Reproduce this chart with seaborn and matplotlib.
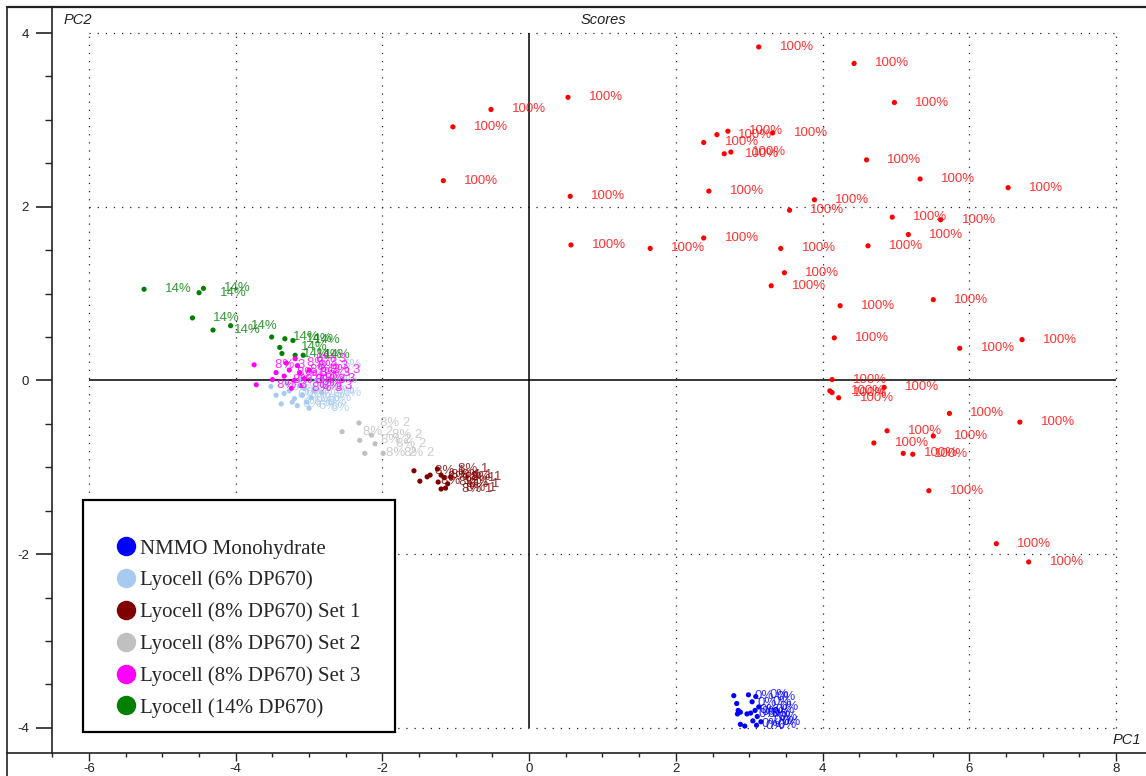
import matplotlib
matplotlib.use("Agg")
import matplotlib.pyplot as plt
import seaborn as sns
import pandas as pd
from matplotlib.lines import Line2D
from matplotlib.patches import Rectangle
from matplotlib.ticker import MultipleLocator

# ---------------- data ----------------
red_x = [3.13, 4.43, 0.53, -0.52, -1.04, 4.98, 2.71, 2.56, 2.38, 2.66, 2.75, 3.32, 4.60, -1.17, 5.33,
         6.53, 0.56, 2.45, 3.89, 3.55, 4.95, 5.61, 5.17, 0.57, 1.65, 2.38, 3.43, 4.62, 3.48, 3.30,
         4.24, 5.51, 4.16, 5.87, 6.72, 4.13, 4.10, 4.13, 4.22, 4.84, 5.73, 6.69, 4.88, 5.51, 4.70,
         5.10, 5.23, 5.45, 6.37, 6.81]
red_y = [3.84, 3.65, 3.26, 3.12, 2.92, 3.20, 2.87, 2.83, 2.74, 2.61, 2.63, 2.85, 2.54, 2.30, 2.32,
         2.22, 2.12, 2.18, 2.08, 1.96, 1.88, 1.85, 1.68, 1.56, 1.52, 1.64, 1.52, 1.55, 1.24, 1.09,
         0.86, 0.93, 0.49, 0.37, 0.47, 0.01, -0.12, -0.14, -0.20, -0.08, -0.38, -0.48, -0.58, -0.64, -0.72,
         -0.84, -0.85, -1.27, -1.88, -2.09]

nmmo_x = [2.79, 2.99, 2.83, 2.85, 2.88, 2.84, 2.97, 3.02, 3.05, 2.88, 2.94, 3.08, 3.04, 3.11, 3.09, 3.13, 3.16, 3.10]
nmmo_y = [-3.63, -3.62, -3.72, -3.80, -3.82, -3.84, -3.84, -3.83, -3.92, -3.96, -3.98, -3.80, -3.70, -3.87, -3.64, -3.76, -3.93, -3.97]

ly6_x = [-3.52, -3.45, -3.38, -3.34, -3.27, -3.20, -3.13, -3.09, -3.03, -3.00, -2.93, -2.89, -2.83, -2.83,
         -3.16, -3.07, -2.97, -3.30, -3.13, -3.23]
ly6_y = [-0.07, -0.17, -0.27, -0.15, -0.12, -0.21, -0.06, -0.17, -0.25, -0.32, -0.12, 0.00, -0.14, 0.18,
         -0.29, -0.09, -0.20, -0.04, 0.02, -0.25]

set1_x = [-1.57, -1.49, -1.39, -1.35, -1.25, -1.24, -1.20, -1.14, -1.16, -1.07, -1.11, -1.20]
set1_y = [-1.04, -1.16, -1.11, -1.09, -1.02, -1.17, -1.25, -1.24, -1.12, -1.11, -1.19, -1.09]

set2_x = [-2.55, -2.32, -2.15, -2.31, -2.10, -2.24, -1.99]
set2_y = [-0.59, -0.49, -0.63, -0.69, -0.73, -0.84, -0.84]

set3_x = [-3.75, -3.72, -3.50, -3.45, -3.31, -3.24, -3.34, -3.27, -3.20, -3.13, -3.16, -3.07, -3.11, -3.00, -3.19]
set3_y = [0.18, -0.05, 0.01, 0.09, 0.20, -0.09, 0.05, 0.12, 0.00, 0.09, 0.17, 0.02, -0.06, 0.12, 0.25]

ly14_x = [-5.25, -4.50, -4.44, -4.59, -4.31, -4.07, -3.51, -3.33, -3.22, -3.40, -3.37, -3.19, -3.08]
ly14_y = [1.05, 1.01, 1.06, 0.72, 0.58, 0.63, 0.50, 0.48, 0.46, 0.38, 0.31, 0.29, 0.29]

group_names = ["100%", "NMMO Monohydrate", "Lyocell (14% DP670)", "Lyocell (6% DP670)",
               "Lyocell (8% DP670) Set 3", "Lyocell (8% DP670) Set 2", "Lyocell (8% DP670) Set 1"]
point_tags = ["100%", "0%", "14%", "6%", "8% 3", "8% 2", "8% 1"]
group_colors = ["#ff0000", "#0000ff", "#008000", "#a6caf0", "#ff00ff", "#c0c0c0", "#800000"]
legend_order = ["NMMO Monohydrate", "Lyocell (6% DP670)", "Lyocell (8% DP670) Set 1",
                "Lyocell (8% DP670) Set 2", "Lyocell (8% DP670) Set 3", "Lyocell (14% DP670)"]

xs = [red_x, nmmo_x, ly14_x, ly6_x, set3_x, set2_x, set1_x]
ys = [red_y, nmmo_y, ly14_y, ly6_y, set3_y, set2_y, set1_y]

frames = []
for name, tag, gx, gy in zip(group_names, point_tags, xs, ys):
    frames.append(pd.DataFrame({"PC1": gx, "PC2": gy, "group": name, "tag": tag}))
df = pd.concat(frames, ignore_index=True)
palette = dict(zip(group_names, group_colors))

# ---------------- figure ----------------
sns.set_style("white")
plt.rcParams["font.family"] = ["Liberation Sans", "DejaVu Sans"]
plt.rcParams["axes.unicode_minus"] = False

W, H = 1146, 776
fig = plt.figure(figsize=(W / 100, H / 100), dpi=100)
ax = fig.add_axes([52 / W, 23 / H, 1 - 52 / W, (753 - 7) / H])

# grid (dotted, limited to the box) and zero lines
grid_style = dict(color="#222222", lw=0.9, linestyle=(0, (1, 5.5)), zorder=1)
for gx in [-6, -4, -2, 2, 4, 6, 8]:
    ax.vlines(gx, -4, 4, **grid_style)
for gy in [-4, -2, 2, 4]:
    ax.hlines(gy, -6, 8, **grid_style)
ax.vlines(0, -4, 4, color="black", lw=1.1, zorder=1)
ax.hlines(0, -6, 8, color="black", lw=1.1, zorder=1)

sns.scatterplot(data=df, x="PC1", y="PC2", hue="group", palette=palette,
                hue_order=group_names, s=14, linewidth=0, legend=False, ax=ax, zorder=3)

for i, row in df.iterrows():
    ax.annotate(row["tag"], (row["PC1"], row["PC2"]), xytext=(15, 0),
                textcoords="offset points", ha="left", va="center",
                color=palette[row["group"]], alpha=0.8, fontsize=9.5, zorder=4)

ax.set_xlim(-6.505, 8.41)
ax.set_ylim(-4.29, 4.30)
ax.set_xlabel("")
ax.set_ylabel("")
ax.xaxis.set_major_locator(MultipleLocator(2))
ax.xaxis.set_minor_locator(MultipleLocator(0.5))
ax.yaxis.set_major_locator(MultipleLocator(2))
ax.yaxis.set_minor_locator(MultipleLocator(0.5))
ax.tick_params(axis="x", which="major", direction="out", length=5.5, width=1, pad=2,
               labelsize=9.5, colors="#222222", bottom=True, top=False)
ax.tick_params(axis="x", which="minor", direction="out", length=3, width=1,
               colors="#222222", bottom=True, top=False)
ax.tick_params(axis="y", which="major", direction="out", length=11.5, width=1.2, pad=5,
               labelsize=9.5, colors="#222222", left=True, right=False)
ax.tick_params(axis="y", which="minor", direction="out", length=5, width=1,
               colors="#222222", left=True, right=False)

for side in ["top", "left", "bottom"]:
    ax.spines[side].set_visible(True)
    ax.spines[side].set_color("#222222")
ax.spines["top"].set_linewidth(1.6)
ax.spines["left"].set_linewidth(1.2)
ax.spines["bottom"].set_linewidth(1.2)
ax.spines["right"].set_visible(False)

# outer frame pieces
fig.add_artist(Line2D([7 / W, 7 / W], [0, 1 - 7 / H], transform=fig.transFigure, color="#222222", lw=1.2))
fig.add_artist(Line2D([7 / W, 52 / W], [1 - 7 / H, 1 - 7 / H], transform=fig.transFigure, color="#222222", lw=1.6))
fig.add_artist(Line2D([7 / W, 52 / W], [23 / H, 23 / H], transform=fig.transFigure, color="#222222", lw=1.2))

# titles inside the frame
title_kw = dict(transform=fig.transFigure, fontsize=10.5, style="italic", color="#222222")
fig.text(64 / W, 1 - 20 / H, "PC2", ha="left", va="center", **title_kw)
fig.text(603 / W, 1 - 20 / H, "Scores", ha="center", va="center", **title_kw)
fig.text(1141 / W, 1 - 740 / H, "PC1", ha="right", va="center", **title_kw)

# legend (frameless) plus a separate black box
handles = [Line2D([], [], marker="o", linestyle="", markersize=14, markeredgewidth=0,
                  color=palette[n]) for n in legend_order]
leg = fig.legend(handles, legend_order, loc="upper left",
                 bbox_to_anchor=(112 / W, 1 - 539 / H), bbox_transform=fig.transFigure,
                 frameon=False, borderpad=0, borderaxespad=0, handlelength=1.3,
                 handletextpad=0.05, labelspacing=0.58,
                 prop={"family": "Liberation Serif", "size": 15})
fig.add_artist(Rectangle((83 / W, 1 - 732 / H), (395 - 83) / W, (732 - 500) / H,
                         transform=fig.transFigure, fill=True, facecolor="white",
                         edgecolor="black", lw=1.6, zorder=2))
leg.set_zorder(5)

fig.savefig("out.png", dpi=100)
